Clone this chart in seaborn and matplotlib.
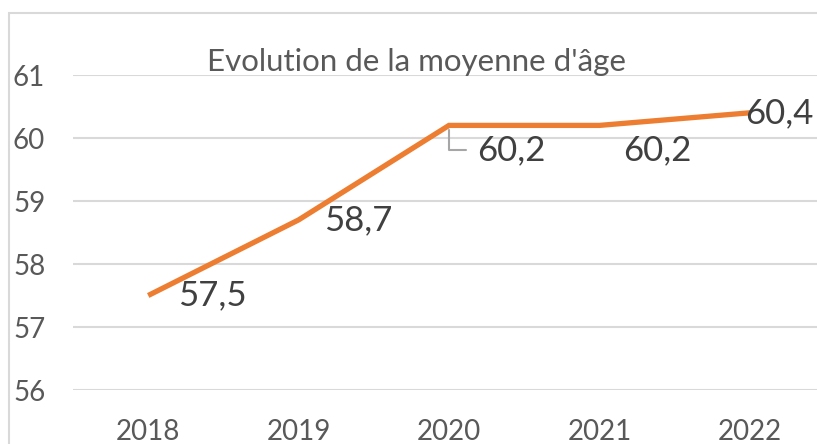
import matplotlib
matplotlib.use("Agg")
import matplotlib.pyplot as plt
import matplotlib.patches as patches
import seaborn as sns
import pandas as pd

# data
years = [2018, 2019, 2020, 2021, 2022]
mean_age = [57.5, 58.7, 60.2, 60.2, 60.4]
labels = ["57,5", "58,7", "60,2", "60,2", "60,4"]
y_ticks = [56, 57, 58, 59, 60, 61]
title = "Evolution de la moyenne d'âge"

sns.set_theme(style="white")
plt.rcParams['font.family'] = ['Lato', 'DejaVu Sans']

df = pd.DataFrame({"year": years, "age": mean_age})

fig = plt.figure(figsize=(8.17, 4.44), dpi=100)
ax = fig.add_axes([73 / 817, 54 / 444, 752 / 817, 315 / 444])

sns.lineplot(data=df, x="year", y="age", ax=ax, color="#ED7D31", linewidth=3.8,
             solid_capstyle="butt", solid_joinstyle="miter")

ax.set_xlim(2017.5, 2022.5)
ax.set_ylim(56, 61)
ax.set_yticks(y_ticks)
ax.set_xticks(years)
ax.set_xticklabels([str(y) for y in years])
ax.grid(axis="y", color="#D9D9D9", linewidth=1.5)
ax.grid(axis="x", visible=False)
ax.set_axisbelow(True)
for s in ax.spines.values():
    s.set_visible(False)
ax.tick_params(axis="y", length=0, pad=20, labelsize=20, labelcolor="#595959")
ax.tick_params(axis="x", length=0, pad=21, labelsize=20, labelcolor="#595959")
ax.set_xlabel("")
ax.set_ylabel("")

# data labels (offsets in pixels)
offsets = [(30, 0), (25, 0), (28, -25), (24, -25), (-5, 0)]
for x, y, lab, (dx, dy) in zip(years, mean_age, labels, offsets):
    ax.annotate(lab, (x, y), xytext=(dx, dy), textcoords="offset pixels",
                ha="left", va="center", fontsize=25, color="#404040",
                annotation_clip=False)

# leader line for 2020 label
ax.annotate("", (2020, 60.2), xytext=(17, -25), textcoords="offset pixels",
            arrowprops=dict(arrowstyle="-", color="#A6A6A6", lw=1.5,
                            connectionstyle="angle,angleA=0,angleB=90,rad=0",
                            shrinkA=0, shrinkB=3))

fig.text(417 / 817, 1 - 62 / 444, title, ha="center", va="center",
         fontsize=22.5, color="#595959")

# chart area border
border = patches.Rectangle((9 / 817, -0.2), 1.2, 0.2 + (444 - 13) / 444,
                           transform=fig.transFigure, fill=False,
                           edgecolor="#D9D9D9", linewidth=1.5, clip_on=False)
fig.patches.append(border)

fig.savefig("out.png", dpi=100)
plt.close(fig)
